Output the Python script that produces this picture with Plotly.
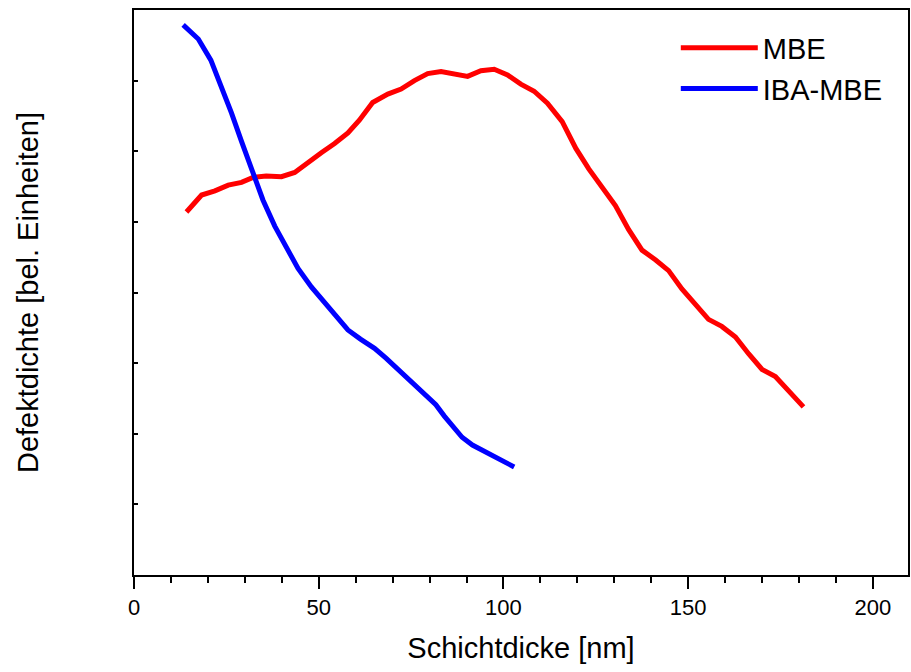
import plotly.graph_objects as go

# MBE series (Schichtdicke [nm] vs. Defektdichte [bel. Einheiten])
mbe_x = [14.2, 18.3, 21.9, 25.5, 29.1, 32.2, 35.8, 39.9, 43.5, 47.1, 50.7, 54.3,
         57.9, 61.0, 64.6, 68.7, 72.3, 75.9, 79.5, 83.1, 86.7, 90.3, 93.9, 97.5,
         101.1, 104.7, 108.3, 111.9, 115.9, 119.6, 123.1, 126.7, 130.3, 133.9,
         137.5, 141.2, 144.7, 148.3, 152.0, 155.5, 159.1, 162.8, 166.4, 170.0,
         173.6, 177.2, 181.2]
mbe_y = [5.14, 5.38, 5.44, 5.52, 5.56, 5.63, 5.65, 5.64, 5.70, 5.85, 5.98, 6.11,
         6.26, 6.44, 6.69, 6.81, 6.88, 7.00, 7.10, 7.13, 7.09, 7.06, 7.14, 7.16,
         7.08, 6.95, 6.85, 6.68, 6.42, 6.04, 5.75, 5.49, 5.23, 4.89,
         4.60, 4.46, 4.31, 4.05, 3.82, 3.62, 3.52, 3.37, 3.13, 2.91,
         2.81, 2.60, 2.38]

# IBA-MBE series
iba_x = [13.3, 17.4, 20.8, 23.7, 26.4, 29.1, 31.8, 34.9, 38.1, 41.0, 44.4, 48.0,
         50.8, 53.8, 57.9, 61.3, 65.1, 68.2, 71.8, 75.4, 78.6, 81.7, 84.0, 86.2,
         88.8, 91.6, 95.1, 98.8, 102.9]
iba_y = [7.79, 7.59, 7.29, 6.92, 6.54, 6.14, 5.74, 5.31, 4.94, 4.67, 4.34, 4.08,
         3.91, 3.73, 3.47, 3.34, 3.21, 3.07, 2.90, 2.72, 2.56, 2.41, 2.25, 2.10,
         1.95, 1.84, 1.74, 1.63, 1.53]

x_ticks = [0, 50, 100, 150, 200]
x_title = "Schichtdicke [nm]"
y_title = "Defektdichte [bel. Einheiten]"

FONT = "Liberation Sans, Arial, Helvetica, sans-serif"

fig = go.Figure()
fig.add_trace(go.Scatter(x=mbe_x, y=mbe_y, mode="lines", name="MBE",
                         line=dict(color="#ff0000", width=5)))
fig.add_trace(go.Scatter(x=iba_x, y=iba_y, mode="lines", name="IBA-MBE",
                         line=dict(color="#0000ff", width=5)))

fig.update_layout(
    width=911, height=672,
    margin=dict(l=134, r=1, t=10, b=97),
    paper_bgcolor="white", plot_bgcolor="white",
    font=dict(family=FONT, color="black", size=22),
    showlegend=True,
    legend=dict(x=0.70, y=0.978, xanchor="left", yanchor="top",
                bgcolor="rgba(0,0,0,0)", font=dict(size=29, family=FONT),
                itemwidth=77, tracegroupgap=0),
    xaxis=dict(range=[0, 209.5], tickvals=x_ticks, ticktext=[str(v) for v in x_ticks],
               ticks="outside", ticklen=12, tickwidth=2, tickcolor="black",
               minor=dict(dtick=10, ticks="outside", ticklen=6, tickwidth=2, tickcolor="black"),
               showline=True, linecolor="black", linewidth=2, mirror=True,
               showgrid=False, zeroline=False,
               tickfont=dict(size=22, family=FONT),
               title=dict(text=x_title, font=dict(size=29, family=FONT), standoff=18)),
    yaxis=dict(range=[0, 8], dtick=1, ticks="inside", ticklen=4, tickwidth=2,
               tickcolor="black", showticklabels=False,
               showline=True, linecolor="black", linewidth=2, mirror=True,
               showgrid=False, zeroline=False,
               title=dict(text=y_title, font=dict(size=29, family=FONT), standoff=85)),
)

fig.write_html("out.html")
